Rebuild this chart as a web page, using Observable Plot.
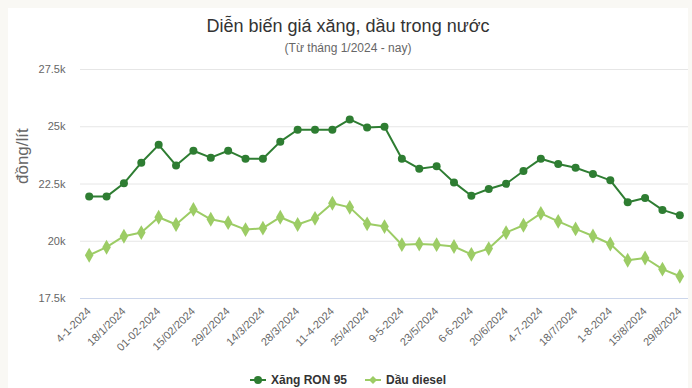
<!DOCTYPE html>
<html><head><meta charset="utf-8">
<script src="https://cdn.jsdelivr.net/npm/d3@7"></script>
<script src="https://cdn.jsdelivr.net/npm/@observablehq/plot@0.6"></script>
<style>
html,body{margin:0;padding:0;background:#f9f8f4;font-family:"Liberation Sans",Arial,sans-serif;overflow:hidden}
#panel{position:absolute;left:8px;top:8px;width:680px;height:380px;background:#fff;overflow:hidden}
#title{position:absolute;top:7px;left:0;width:100%;text-align:center;font-size:18px;line-height:22px;color:#333}
#sub{position:absolute;top:33px;left:0;width:100%;text-align:center;font-size:12px;line-height:14px;color:#666}
#chart{position:absolute;top:48px;left:0}
#legend{position:absolute;top:364px;left:0;width:100%;display:flex;justify-content:center;gap:18px;font-size:12px;line-height:16px;font-weight:bold;color:#333}
#legend span{display:flex;align-items:center;gap:5px}
</style></head>
<body>
<div id="panel">
  <div id="title">Diễn biến giá xăng, dầu trong nước</div>
  <div id="sub">(Từ tháng 1/2024 - nay)</div>
  <div id="chart"></div>
  <div id="legend"></div>
</div>
<script>
const dates = ["4-1-2024","11/1/2024","18/1/2024","25/1/2024","01-02-2024","08/02/2024","15/02/2024","22/2/2024","29/2/2024","7/3/2024","14/3/2024","21/3/2024","28/3/2024","4-4-2024","11-4-2024","18/4/2024","25/4/2024","2-5-2024","9-5-2024","16/5/2024","23/5/2024","30/5/2024","6-6-2024","13/6/2024","20/6/2024","27/6/2024","4-7-2024","11/7/2024","18/7/2024","25/7/2024","1-8-2024","8/8/2024","15/8/2024","22/8/2024","29/8/2024"];
const tickLabels = ["4-1-2024","18/1/2024","01-02-2024","15/02/2024","29/2/2024","14/3/2024","28/3/2024","11-4-2024","25/4/2024","9-5-2024","23/5/2024","6-6-2024","20/6/2024","4-7-2024","18/7/2024","1-8-2024","15/8/2024","29/8/2024"];
const ron95 = [21950,21950,22530,23430,24210,23310,23950,23650,23950,23600,23600,24350,24870,24870,24870,25320,24970,25000,23600,23170,23270,22570,21990,22280,22510,23070,23600,23370,23210,22940,22660,21700,21890,21370,21130];
const diesel = [19390,19740,20220,20380,21050,20730,21390,20960,20810,20510,20570,21050,20730,21000,21660,21480,20760,20640,19850,19880,19850,19770,19430,19680,20380,20700,21220,20870,20540,20230,19880,19170,19270,18780,18470];
const yTicks = [17500,20000,22500,25000,27500];
const seriesNames = ["Xăng RON 95","Dầu diesel"];
const colors = ["#2e7d32","#9ccc65"];

const ronRows = dates.map((d,i)=>({date:d, value:ron95[i], series:seriesNames[0]}));
const dieselRows = dates.map((d,i)=>({date:d, value:diesel[i], series:seriesNames[1]}));

const chart = Plot.plot({
  width:680, height:320,
  marginTop:13, marginBottom:78, marginLeft:72, marginRight:0,
  style:{fontFamily:'"Liberation Sans",Arial,sans-serif', background:"transparent"},
  x:{type:"point", domain:dates, padding:0.5, round:false},
  y:{domain:[17500,27500], ticks:yTicks},
  marks:[
    Plot.gridY(yTicks.slice(1), {stroke:"#e6e6e6", strokeOpacity:1}),
    Plot.ruleY([17500], {stroke:"#ccd6eb", strokeWidth:1}),
    Plot.axisY(yTicks, {tickSize:0, tickPadding:15, tickFormat:d=>(d/1000)+"k", fontSize:11, fill:"#666", label:null}),
    Plot.axisX(tickLabels, {tickSize:0, tickRotate:-45, tickPadding:11, fontSize:11, fill:"#666", label:null}),
    Plot.text(["đồng/lít"], {frameAnchor:"left", dx:-58, rotate:-90, fontSize:17, fill:"#666"}),
    Plot.line(dieselRows, {x:"date", y:"value", stroke:colors[1], strokeWidth:2}),
    Plot.dot(dieselRows, {x:"date", y:"value", symbol:"diamond", fill:colors[1], r:4.5}),
    Plot.line(ronRows, {x:"date", y:"value", stroke:colors[0], strokeWidth:2}),
    Plot.dot(ronRows, {x:"date", y:"value", symbol:"circle", fill:colors[0], r:4})
  ]
});
document.getElementById("chart").appendChild(chart);

const legend = document.getElementById("legend");
seriesNames.forEach((n,i)=>{
  const s = document.createElement("span");
  const icon = i===0
    ? `<svg width="16" height="10"><line x1="0" y1="5" x2="16" y2="5" stroke="${colors[i]}" stroke-width="2"/><circle cx="8" cy="5" r="4" fill="${colors[i]}"/></svg>`
    : `<svg width="16" height="10"><line x1="0" y1="5" x2="16" y2="5" stroke="${colors[i]}" stroke-width="2"/><path d="M8 1L12 5L8 9L4 5Z" fill="${colors[i]}"/></svg>`;
  s.innerHTML = icon + `<span>${n}</span>`;
  legend.appendChild(s);
});
</script>
</body></html>
